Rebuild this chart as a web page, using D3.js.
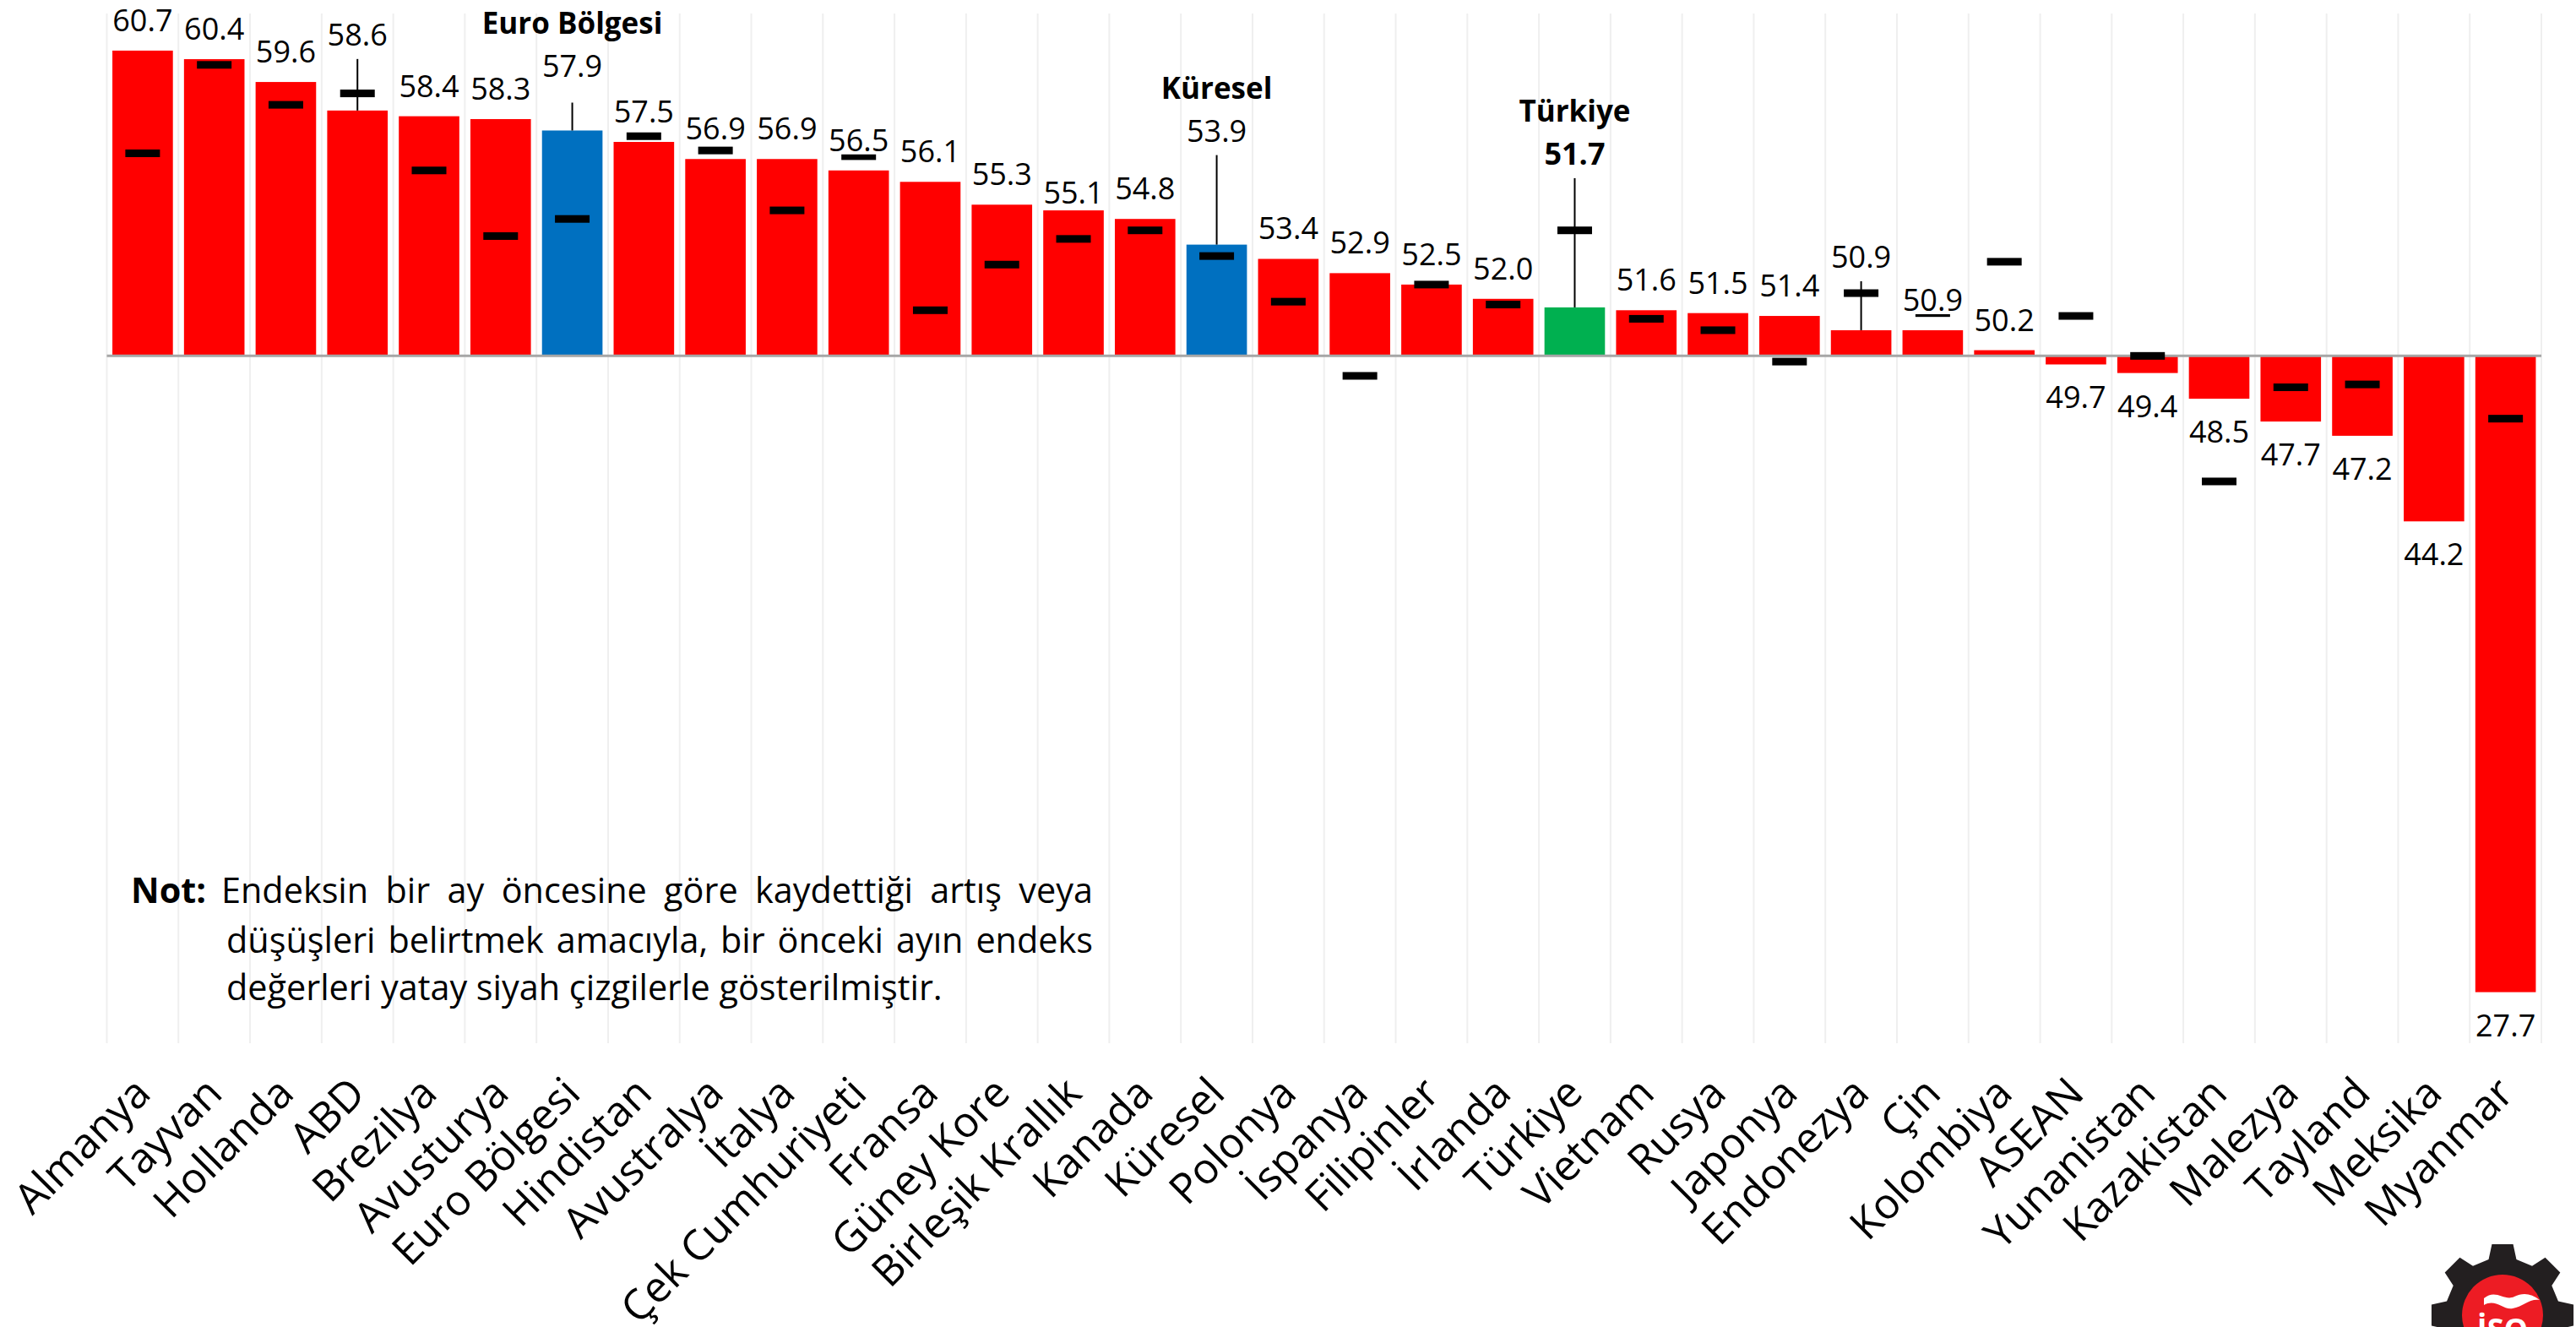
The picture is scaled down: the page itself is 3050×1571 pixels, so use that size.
<!DOCTYPE html>
<html lang="tr">
<head>
<meta charset="utf-8">
<script src="https://cdn.jsdelivr.net/npm/d3@7"></script>
<style>
  html, body { margin: 0; padding: 0; background: #fff; }
  svg { display: block; }
  text { font-family: 'Open Sans', 'Noto Sans', sans-serif; }
</style>
</head>
<body>
<div id="chart"></div>
<script>
// İmalat PMI, Şubat (bar) ve bir önceki ay (siyah çizgi)
const categories = [
  'Almanya', 'Tayvan', 'Hollanda', 'ABD', 'Brezilya', 'Avusturya', 'Euro Bölgesi',
  'Hindistan', 'Avustralya', 'İtalya', 'Çek Cumhuriyeti', 'Fransa', 'Güney Kore',
  'Birleşik Krallık', 'Kanada', 'Küresel', 'Polonya', 'İspanya', 'Filipinler',
  'İrlanda', 'Türkiye', 'Vietnam', 'Rusya', 'Japonya', 'Endonezya', 'Çin',
  'Kolombiya', 'ASEAN', 'Yunanistan', 'Kazakistan', 'Malezya', 'Tayland',
  'Meksika', 'Myanmar'
];
const values = [
  60.7, 60.4, 59.6, 58.6, 58.4, 58.3, 57.9,
  57.5, 56.9, 56.9, 56.5, 56.1, 55.3,
  55.1, 54.8, 53.9, 53.4, 52.9, 52.5,
  52.0, 51.7, 51.6, 51.5, 51.4, 50.9, 50.9,
  50.2, 49.7, 49.4, 48.5, 47.7, 47.2,
  44.2, 27.7
];
const previous = [
  57.1, 60.2, 58.8, 59.2, 56.5, 54.2, 54.8,
  57.7, 57.2, 55.1, 57.0, 51.6, 53.2,
  54.1, 54.4, 53.5, 51.9, 49.3, 52.5,
  51.8, 54.4, 51.3, 50.9, 49.8, 52.2, 51.5,
  53.3, 51.4, 50.0, 45.6, 48.9, 49.0,
  43.0, 47.8
];
const blueBars = ['Euro Bölgesi', 'Küresel'];
const greenBars = ['Türkiye'];
const namedBars = ['Euro Bölgesi', 'Küresel', 'Türkiye'];
const noteLines = [
  'Endeksin bir ay öncesine göre kaydettiği artış veya',
  'düşüşleri belirtmek amacıyla, bir önceki ayın endeks',
  'değerleri yatay siyah çizgilerle gösterilmiştir.'
];

const width = 3050;
const height = 1571;
const plot = { left: 126.5, right: 3009, top: 16, bottom: 1232 };
const threshold = 50;

// label distance from bar top (only where the label was moved by hand)
const labelGap = {
  'ABD': 77, 'Euro Bölgesi': 63, 'Küresel': 122, 'Türkiye': 169,
  'Endonezya': 74, 'Birleşik Krallık': 8
};
const withLeader = ['ABD', 'Euro Bölgesi', 'Küresel', 'Türkiye', 'Endonezya'];

const data = categories.map((c, i) => ({ name: c, value: values[i], prev: previous[i] }));

const svg = d3.select('#chart').append('svg')
  .attr('width', width)
  .attr('height', height);

const x = d3.scaleBand()
  .domain(categories)
  .range([plot.left, plot.right])
  .paddingInner(0.155)
  .paddingOuter(0.0775);

const y = d3.scaleLinear()
  .domain([26, 62])
  .range([plot.bottom, plot.top]);

const cx = d => x(d.name) + x.bandwidth() / 2;

// vertical grid lines at category borders
svg.append('g')
  .selectAll('line')
  .data(d3.range(categories.length + 1))
  .join('line')
  .attr('x1', i => plot.left + i * x.step())
  .attr('x2', i => plot.left + i * x.step())
  .attr('y1', plot.top)
  .attr('y2', plot.bottom + 3)
  .attr('stroke', '#efefef')
  .attr('stroke-width', 2);

function barColor(d) {
  if (blueBars.includes(d.name)) return '#0070c0';
  if (greenBars.includes(d.name)) return '#00b050';
  return '#ff0000';
}

svg.append('g')
  .selectAll('rect')
  .data(data)
  .join('rect')
  .attr('x', d => x(d.name))
  .attr('width', x.bandwidth())
  .attr('y', d => Math.min(y(d.value), y(threshold)))
  .attr('height', d => Math.abs(y(d.value) - y(threshold)))
  .attr('fill', barColor);

// axis line at 50
svg.append('line')
  .attr('x1', plot.left)
  .attr('x2', plot.right)
  .attr('y1', y(threshold))
  .attr('y2', y(threshold))
  .attr('stroke', '#a6a6a6')
  .attr('stroke-width', 3);

// previous month markers
svg.append('g')
  .selectAll('rect')
  .data(data)
  .join('rect')
  .attr('x', d => cx(d) - 20.5)
  .attr('y', d => y(d.prev) - 4.5)
  .attr('width', 41)
  .attr('height', 9)
  .attr('fill', '#000');

// value labels
function labelBaseline(d) {
  if (d.value >= threshold) {
    const gap = labelGap[d.name] !== undefined ? labelGap[d.name] : 23;
    return y(d.value) - gap;
  }
  return y(d.value) + 52;
}

const labels = svg.append('g');
data.forEach(d => {
  const by = labelBaseline(d);
  labels.append('rect')
    .attr('x', cx(d) - 37)
    .attr('y', by - 29)
    .attr('width', 74)
    .attr('height', 33)
    .attr('fill', '#fff');
  labels.append('text')
    .attr('x', cx(d))
    .attr('y', by)
    .attr('text-anchor', 'middle')
    .attr('font-size', 36)
    .attr('font-weight', greenBars.includes(d.name) ? 'bold' : 'normal')
    .attr('fill', '#000')
    .text(d.value.toFixed(1));

  if (withLeader.includes(d.name)) {
    labels.append('line')
      .attr('x1', cx(d))
      .attr('x2', cx(d))
      .attr('y1', by + (d.name === 'Euro Bölgesi' ? 30 : 16))
      .attr('y2', y(d.value))
      .attr('stroke', '#000')
      .attr('stroke-width', 2);
  }
  if (namedBars.includes(d.name)) {
    labels.append('text')
      .attr('x', cx(d))
      .attr('y', by - 51)
      .attr('text-anchor', 'middle')
      .attr('font-size', 35)
      .attr('font-weight', 'bold')
      .attr('fill', '#000')
      .text(d.name);
  }
});

// category labels
svg.append('g')
  .selectAll('text')
  .data(data)
  .join('text')
  .attr('transform', d => `translate(${cx(d) + 12},1297) rotate(-45)`)
  .attr('text-anchor', 'end')
  .attr('font-size', 50)
  .attr('fill', '#000')
  .text(d => d.name);

// note, justified with word spacing like the text box in the source
const note = svg.append('g');
const noteX = [262, 268, 268];
const noteY = [1069, 1128, 1184];
const noteRight = 1294;
const lastLineWidth = 848;

const noteTexts = noteLines.map((line, i) => note.append('text')
  .attr('x', noteX[i])
  .attr('y', noteY[i])
  .attr('font-size', 35)
  .text(line));

const probe = noteTexts[noteTexts.length - 1].node().getComputedTextLength();
const noteSize = 35 * lastLineWidth / probe;

noteTexts.forEach((t, i) => {
  t.attr('font-size', noteSize);
  if (i < noteLines.length - 1) {
    const natural = t.node().getComputedTextLength();
    const gaps = noteLines[i].split(' ').length - 1;
    t.attr('word-spacing', (noteRight - noteX[i] - natural) / gaps);
  }
});

note.append('text')
  .attr('x', 155)
  .attr('y', noteY[0])
  .attr('font-size', noteSize)
  .attr('font-weight', 'bold')
  .text('Not:');

// İSO logo (bottom right, cut by the frame)
const logo = svg.append('g').attr('transform', 'translate(2963,1557)');
const gearPts = [];
d3.range(8).forEach(i => {
  const a = (i * 45 - 90) * Math.PI / 180;
  const rad = deg => deg * Math.PI / 180;
  [[-14, 68], [-8.5, 85], [8.5, 85], [14, 68]].forEach(([da, r]) => {
    gearPts.push([r * Math.cos(a + rad(da)), r * Math.sin(a + rad(da))]);
  });
});
logo.append('path')
  .attr('d', d3.line().curve(d3.curveLinearClosed)(gearPts))
  .attr('fill', '#231f20');
logo.append('circle')
  .attr('r', 48)
  .attr('fill', '#ed1c24');
logo.append('path')
  .attr('d', 'M-22,-20 C-8,-32 2,-16 14,-22 C24,-27 34,-26 44,-18 C32,-20 24,-10 12,-8 C0,-6 -8,-20 -22,-12 Z')
  .attr('fill', '#fff');
logo.append('text')
  .attr('x', 0)
  .attr('y', 30)
  .attr('text-anchor', 'middle')
  .attr('font-size', 36)
  .attr('font-weight', 'bold')
  .attr('fill', '#fff')
  .text('İSO');
</script>
</body>
</html>
